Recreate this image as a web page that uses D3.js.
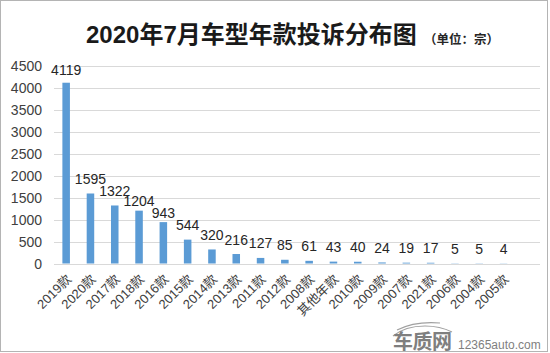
<!DOCTYPE html>
<html>
<head>
<meta charset="utf-8">
<script src="https://cdn.jsdelivr.net/npm/d3@7"></script>
<style>
body { margin: 0; background: #fff; }
svg { display: block; font-family: "Liberation Sans", Arial, "Noto Sans CJK SC", sans-serif; }
.gridLine { stroke: #d9d9d9; stroke-width: 1; }
.tickText { font-size: 14px; fill: #404040; }
.valText { font-size: 14px; fill: #262626; }
.catText { font-size: 13px; fill: #404040; }
</style>
</head>
<body>
<div id="chart"></div>
<script>
/* chart data */
var categories = ["2019款","2020款","2017款","2018款","2016款","2015款","2014款","2013款","2011款","2012款",
  "2008款","其他年款","2010款","2009款","2007款","2021款","2006款","2004款","2005款"]
var complaints = [4119,1595,1322,1204,943,544,320,216,127,85,61,43,40,24,19,17,5,5,4]
var yTicks = [0,500,1000,1500,2000,2500,3000,3500,4000,4500]
var titleText = "2020年7月车型年款投诉分布图"
var unitText = "（单位：宗）"

var W = 550, H = 353
var plotL = 54, plotR = 540, plotTop = 66, plotBottom = 263.5

var svg = d3.select("#chart").append("svg")
  .attr("width",W)
  .attr("height",H)

svg.append("rect")
  .attr("x",0.5).attr("y",0.5)
  .attr("width",547).attr("height",351)
  .attr("fill","#fff")
  .attr("stroke","#b4b4b4")

/* title */
svg.append("text")
  .text(titleText)
  .attr("x",86)
  .attr("y",43)
  .attr("font-size","24px")
  .attr("font-weight","bold")
  .attr("fill","#1a1a1a")
svg.append("text")
  .text(unitText)
  .attr("x",424)
  .attr("y",44)
  .attr("font-size","12.5px")
  .attr("font-weight","bold")
  .attr("fill","#262626")

/* scales - one empty slot at the end, like the original */
var xScale = d3.scaleBand()
  .domain(categories.concat(["__blank"]))
  .range([plotL,plotR])
  .paddingInner(0.69)
  .paddingOuter(0.345)
var yScale = d3.scaleLinear()
  .domain([0,4500])
  .range([plotBottom,plotTop])

function barX(d,i) { return xScale(categories[i]) }
function barCx(d,i) { return xScale(categories[i]) + xScale.bandwidth()/2 }

/* labels the original nudged down to clear their neighbours */
var labelGap = 9.5
function labelGapFor(i) {
  if (i == 0) return 8
  if (i == 3 || i == 4) return 4.5
  return labelGap
}

/* horizontal grid */
svg.selectAll("line.gridLine")
  .data(yTicks)
  .enter()
  .append("line")
  .attr("class","gridLine")
  .attr("x1",plotL)
  .attr("x2",plotR)
  .attr("y1",function(d) { return Math.round(yScale(d)) + 0.5 })
  .attr("y2",function(d) { return Math.round(yScale(d)) + 0.5 })

svg.selectAll("text.tickText")
  .data(yTicks)
  .enter()
  .append("text")
  .attr("class","tickText")
  .text(function(d) { return d })
  .attr("x",42)
  .attr("y",function(d) { return yScale(d) })
  .attr("dy","0.36em")
  .attr("text-anchor","end")

/* bars */
svg.selectAll("rect.bar")
  .data(complaints)
  .enter()
  .append("rect")
  .attr("class","bar")
  .attr("x",barX)
  .attr("width",xScale.bandwidth())
  .attr("y",function(d) { return yScale(d) })
  .attr("height",function(d) { return plotBottom - yScale(d) })
  .attr("fill","#5b9bd5")

svg.selectAll("text.valText")
  .data(complaints)
  .enter()
  .append("text")
  .attr("class","valText")
  .text(function(d) { return d })
  .attr("x",barCx)
  .attr("y",function(d,i) { return yScale(d) - labelGapFor(i) })
  .attr("text-anchor","middle")

/* category labels, rotated */
svg.selectAll("text.catText")
  .data(categories)
  .enter()
  .append("text")
  .attr("class","catText")
  .text(function(d) { return d })
  .attr("text-anchor","end")
  .attr("transform",function(d,i) {
    return "translate(" + (barCx(0,i) + 6) + "," + 280 + ") rotate(-45)"
  })

/* watermark */
var wm = svg.append("g").attr("fill","#8c8c8c")
wm.append("path")
  .attr("d","M393,336 Q405,326 425,326 Q440,326 452,332 M397,330 Q415,321 440,323")
  .attr("fill","none")
  .attr("stroke","#a0a0a0")
  .attr("stroke-width",1.2)
wm.append("text")
  .text("车质网")
  .attr("x",393)
  .attr("y",349)
  .attr("font-size","20px")
  .attr("font-weight","bold")
  .attr("letter-spacing","-0.5px")
  .attr("fill","#7f7f7f")
wm.append("text")
  .text("12365auto.com")
  .attr("x",458)
  .attr("y",349)
  .attr("font-size","12px")
  .attr("fill","#7f7f7f")
</script>
</body>
</html>
